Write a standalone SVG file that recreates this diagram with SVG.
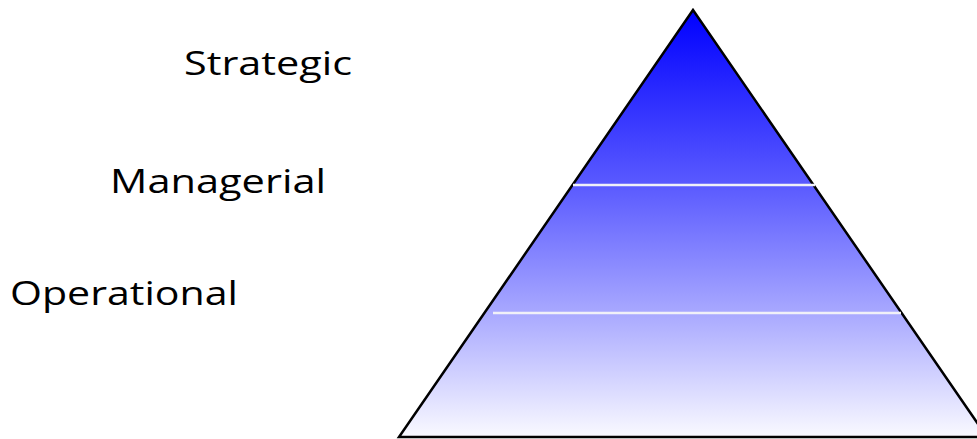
<svg xmlns="http://www.w3.org/2000/svg" width="977" height="439" viewBox="0 0 977 439">
<defs>
<linearGradient id="g" x1="0" y1="10" x2="0" y2="438" gradientUnits="userSpaceOnUse">
<stop offset="0" stop-color="#0000ff"/>
<stop offset="0.41" stop-color="#5a5aff"/>
<stop offset="0.71" stop-color="#a9a9ff"/>
<stop offset="1" stop-color="#fafaff"/>
</linearGradient>
</defs>
<style>
.lbl{font-family:"Open Sans","Liberation Sans",sans-serif;font-size:33px;fill:#000}
.div{stroke:#f0f0f8;stroke-width:2.5}
</style>
<rect width="977" height="439" fill="#ffffff"/>
<g id="pyramid">
<polygon points="693,10 399,437 987,437" fill="url(#g)" stroke="#000" stroke-width="2.5" stroke-linejoin="miter"/>
<line class="div" x1="573" y1="185" x2="815" y2="185"/>
<line class="div" x1="493" y1="313" x2="901" y2="313"/>
</g>
<g id="strategic"><text class="lbl" x="184" y="75" textLength="168" lengthAdjust="spacingAndGlyphs">Strategic</text></g>
<g id="managerial"><text class="lbl" x="110" y="193" textLength="216" lengthAdjust="spacingAndGlyphs">Managerial</text></g>
<g id="operational"><text class="lbl" x="10" y="305" textLength="228" lengthAdjust="spacingAndGlyphs">Operational</text></g>
</svg>
